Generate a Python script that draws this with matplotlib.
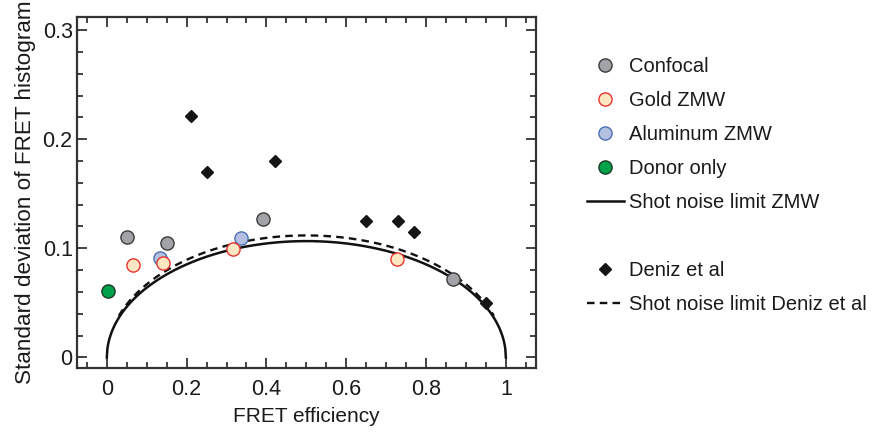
import numpy as np
import matplotlib
matplotlib.use("Agg")
import matplotlib.pyplot as plt
from matplotlib.lines import Line2D
from matplotlib.ticker import MultipleLocator

plt.rcParams['font.family'] = ['Liberation Sans', 'DejaVu Sans']

# FRET efficiency / std-dev pairs for each measurement set
confocal_E = [0.050, 0.151, 0.391, 0.867]
confocal_sd = [0.110, 0.105, 0.127, 0.072]

gold_E = [0.066, 0.142, 0.317, 0.727]
gold_sd = [0.085, 0.0865, 0.0995, 0.0905]

alu_E = [0.133, 0.335]
alu_sd = [0.0915, 0.109]

donor_E = [0.003]
donor_sd = [0.061]

deniz_E = [0.211, 0.250, 0.421, 0.649, 0.730, 0.771, 0.951]
deniz_sd = [0.221, 0.170, 0.180, 0.125, 0.125, 0.115, 0.050]

# photons per burst used for the shot noise limits
n_zmw = 22
n_deniz = 20
deniz_range = (0.03, 0.97)

fig = plt.figure(figsize=(8.74, 4.34), dpi=100)
ax = fig.add_axes([0.088, 0.152, 0.525, 0.809])

E = np.linspace(0, 1, 801)
ax.plot(E, np.sqrt(E * (1 - E) / n_zmw), color='#111111', lw=1.8, zorder=2)
Ed = np.linspace(deniz_range[0], deniz_range[1], 601)
ax.plot(Ed, np.sqrt(Ed * (1 - Ed) / n_deniz), color='#111111', lw=1.7,
        linestyle=(0, (3.2, 2.2)), zorder=2)

circ = dict(marker='o', linestyle='none', markersize=9.5, markeredgewidth=1.0, zorder=3)
ax.plot(confocal_E, confocal_sd, markerfacecolor='#a2a3a7', markeredgecolor='#3c3c3c', **circ)
ax.plot(alu_E, alu_sd, markerfacecolor='#b3c0e2', markeredgecolor='#4f6fb2', **circ)
ax.plot(gold_E, gold_sd, markerfacecolor='#fde6c2', markeredgecolor='#e8332f', **circ)
ax.plot(donor_E, donor_sd, markerfacecolor='#00a249', markeredgecolor='#1d3b25', **circ)
ax.plot(deniz_E, deniz_sd, marker='D', linestyle='none', markersize=6.2,
        color='#151515', zorder=3)

ax.set_xlim(-0.075, 1.075)
ax.set_ylim(-0.0097, 0.312)
ax.set_xticks([0, 0.2, 0.4, 0.6, 0.8, 1])
ax.set_xticklabels(['0', '0.2', '0.4', '0.6', '0.8', '1'])
ax.set_yticks([0, 0.1, 0.2, 0.3])
ax.set_yticklabels(['0', '0.1', '0.2', '0.3'])
ax.xaxis.set_minor_locator(MultipleLocator(0.05))
ax.yaxis.set_minor_locator(MultipleLocator(0.02))
ax.tick_params(which='both', direction='in', top=True, right=True,
               color='#333333', width=1.3, labelsize=15.5, labelcolor='#1a1a1a')
ax.tick_params(which='major', length=7)
ax.tick_params(which='minor', length=4)
ax.tick_params(axis='x', which='major', pad=8)
ax.tick_params(axis='y', which='major', pad=3)
for s in ax.spines.values():
    s.set_linewidth(1.6)
    s.set_color('#333333')

ax.set_xlabel('FRET efficiency', fontsize=15, color='#1a1a1a', labelpad=5)
ax.set_ylabel('Standard deviation of FRET histogram', fontsize=16.2, color='#1a1a1a', labelpad=5)

mk = dict(marker='o', linestyle='none', markersize=9.5, markeredgewidth=1.0)
handles = [
    Line2D([], [], markerfacecolor='#a2a3a7', markeredgecolor='#3c3c3c', **mk),
    Line2D([], [], markerfacecolor='#fde6c2', markeredgecolor='#e8332f', **mk),
    Line2D([], [], markerfacecolor='#b3c0e2', markeredgecolor='#4f6fb2', **mk),
    Line2D([], [], markerfacecolor='#00a249', markeredgecolor='#1d3b25', **mk),
    Line2D([], [], color='#111111', lw=1.8),
    Line2D([], [], linestyle='none'),
    Line2D([], [], marker='D', linestyle='none', markersize=6.2, color='#151515'),
    Line2D([], [], color='#111111', lw=1.7, linestyle=(0, (3.2, 2.2))),
]
labels = ['Confocal', 'Gold ZMW', 'Aluminum ZMW', 'Donor only',
          'Shot noise limit ZMW', '', 'Deniz et al', 'Shot noise limit Deniz et al']
fig.legend(handles, labels, loc='upper left', bbox_to_anchor=(0.672, 0.868),
           frameon=False, fontsize=14.5, handlelength=1.8, handletextpad=0.25,
           labelspacing=0.74, borderpad=0, borderaxespad=0, labelcolor='#1a1a1a')

fig.savefig('out.png', dpi=100)
